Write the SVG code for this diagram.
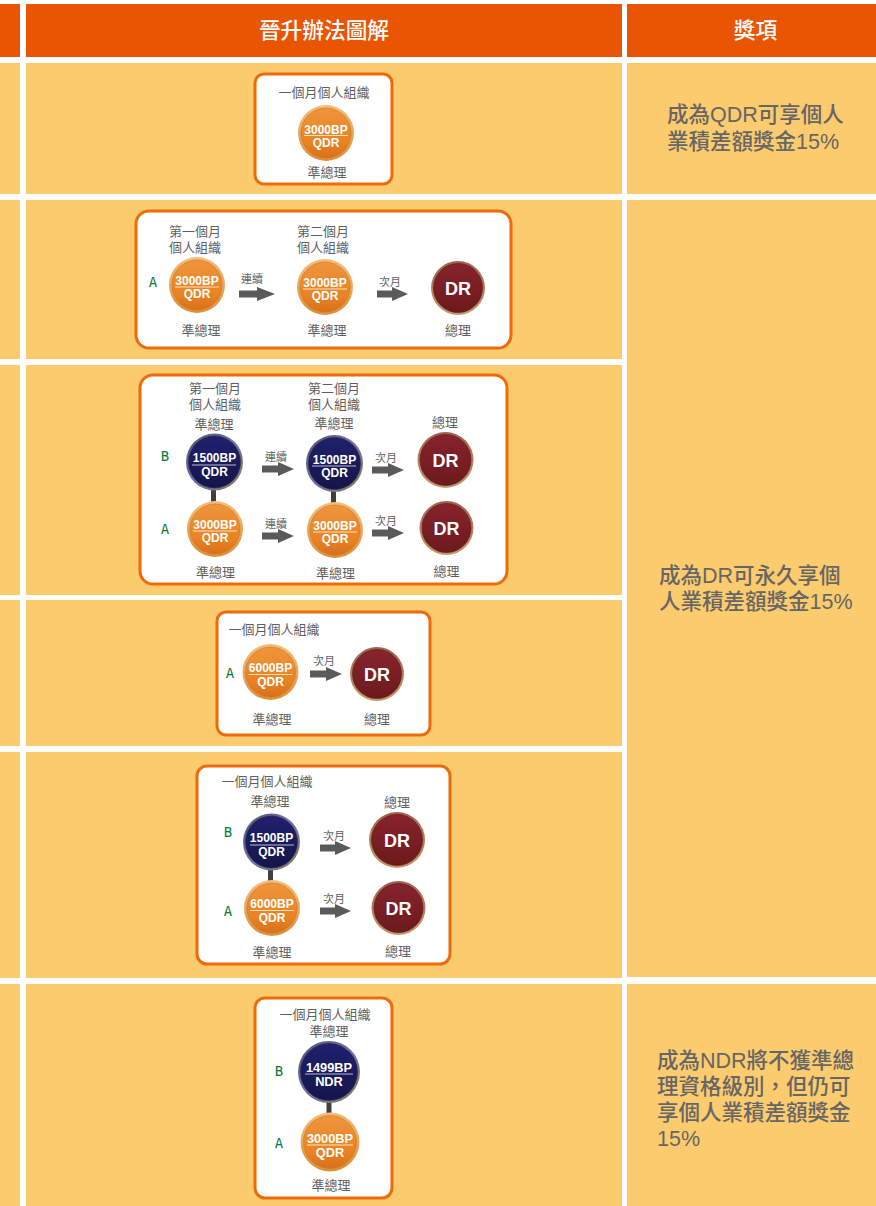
<svg xmlns="http://www.w3.org/2000/svg" width="876" height="1206" viewBox="0 0 876 1206">
<style>
text{font-family:"Liberation Sans","Noto Sans CJK TC",sans-serif;text-anchor:middle;dominant-baseline:central}
.cell{fill:#fccb6d}.head{fill:#ea5504}
.box{fill:#fff;stroke:#ee6a0a;stroke-width:3}
.h{font-size:21.700px;fill:#fff;font-weight:500}
.r{font-size:21.500px;fill:#666;text-anchor:start;dominant-baseline:auto;font-weight:500}
.l{font-size:13px;fill:#5f5f5f}
.s{font-size:11px;fill:#5f5f5f}
.g{font-size:14px;fill:#0b7a3e;font-family:"DejaVu Sans Mono",monospace}
.n{font-size:12px;font-weight:700;fill:#fff}
.nl{font-size:12.800px;font-weight:700;fill:#fff}
.d{font-size:18px;font-weight:700;fill:#fff}
.o1{fill:url(#oRing)}.o2{fill:url(#oFill);stroke:#c9772c;stroke-width:.6}
.b1{fill:url(#bRing)}.b2{fill:url(#bFill);stroke:#2a2a3a;stroke-width:.6}
.m1{fill:url(#dRing)}.m2{fill:url(#dFill);stroke:#5c1a1a;stroke-width:.6}
.u{stroke:#fff;stroke-width:1.2}.uo{stroke:#fde3c0;stroke-width:1.2}.ub{stroke:#b9b9d8;stroke-width:1.2}
.a{stroke:#5a5a5a;stroke-width:7;fill:none}
.big{marker-end:url(#hb)}.sm{marker-end:url(#hs)}
.link{stroke:#3f3f3f;stroke-width:5}
</style>
<defs>
<linearGradient id="oRing" x1="0" y1="0" x2="0" y2="1"><stop offset="0" stop-color="#f6bd7a"/><stop offset="1" stop-color="#dc8f3a"/></linearGradient>
<linearGradient id="oFill" x1="0" y1="0" x2="0" y2="1"><stop offset="0" stop-color="#ee953c"/><stop offset=".7" stop-color="#e98222"/><stop offset="1" stop-color="#d8701a"/></linearGradient>
<linearGradient id="bRing" x1="0" y1="0" x2="1" y2="1"><stop offset="0" stop-color="#54546a"/><stop offset=".5" stop-color="#6f6fb0"/><stop offset="1" stop-color="#8a7d50"/></linearGradient>
<linearGradient id="bFill" x1="0" y1="0" x2="0" y2="1"><stop offset="0" stop-color="#20206e"/><stop offset="1" stop-color="#15154a"/></linearGradient>
<linearGradient id="dRing" x1="0" y1="0" x2="0" y2="1"><stop offset="0" stop-color="#a0604a"/><stop offset="1" stop-color="#c49a6c"/></linearGradient>
<linearGradient id="dFill" x1="0" y1="0" x2="0" y2="1"><stop offset="0" stop-color="#87232e"/><stop offset="1" stop-color="#6c1a1c"/></linearGradient>
<marker id="hb" markerUnits="userSpaceOnUse" markerWidth="18" markerHeight="14" refX="0" refY="7" orient="auto"><path d="M0 0L18 7L0 14Z" fill="#5a5a5a"/></marker>
<marker id="hs" markerUnits="userSpaceOnUse" markerWidth="16" markerHeight="14" refX="0" refY="7" orient="auto"><path d="M0 0L16 7L0 14Z" fill="#5a5a5a"/></marker>
</defs>

<g id="table">
<rect class="head" x="0" y="4" width="20" height="53"/>
<rect class="head" x="26" y="4" width="596" height="53"/>
<rect class="head" x="627" y="4" width="249" height="53"/>
<text class="h" x="324" y="30.500">晉升辦法圖解</text>
<text class="h" x="755.500" y="30.500">獎項</text>
<rect class="cell" x="0" y="63" width="20" height="131"/>
<rect class="cell" x="0" y="200" width="20" height="159"/>
<rect class="cell" x="0" y="365" width="20" height="230"/>
<rect class="cell" x="0" y="600" width="20" height="146"/>
<rect class="cell" x="0" y="752" width="20" height="226"/>
<rect class="cell" x="0" y="984" width="20" height="222"/>
<rect class="cell" x="26" y="63" width="596" height="131"/>
<rect class="cell" x="26" y="200" width="596" height="159"/>
<rect class="cell" x="26" y="365" width="596" height="230"/>
<rect class="cell" x="26" y="600" width="596" height="146"/>
<rect class="cell" x="26" y="752" width="596" height="226"/>
<rect class="cell" x="26" y="984" width="596" height="222"/>
<rect class="cell" x="627" y="63" width="249" height="131"/>
<rect class="cell" x="627" y="200" width="249" height="777"/>
<rect class="cell" x="627" y="984" width="249" height="222"/>
<text class="r" x="667" y="122">成為QDR可享個人</text>
<text class="r" x="667" y="149">業積差額獎金15%</text>
<text class="r" x="659" y="583">成為DR可永久享個</text>
<text class="r" x="659" y="609">人業積差額獎金15%</text>
<text class="r" x="657" y="1068">成為NDR將不獲準總</text>
<text class="r" x="657" y="1094">理資格級別，但仍可</text>
<text class="r" x="657" y="1120">享個人業積差額獎金</text>
<text class="r" x="657" y="1146">15%</text>
</g>

<g id="boxes">
<rect class="box" x="255" y="74" width="137" height="110" rx="9"/>
<rect class="box" x="136" y="211" width="375" height="137" rx="13"/>
<rect class="box" x="140" y="375" width="367" height="209" rx="13"/>
<rect class="box" x="217" y="612" width="213" height="123" rx="9"/>
<rect class="box" x="197" y="766" width="253" height="198" rx="10"/>
<rect class="box" x="255" y="998" width="137" height="200" rx="10"/>
</g>

<g id="connectors">
<line class="a big" x1="239" y1="294" x2="257" y2="294"/>
<line class="a sm" x1="377" y1="294" x2="392" y2="294"/>
<line class="a sm" x1="262" y1="469" x2="278" y2="469"/>
<line class="a sm" x1="262" y1="536" x2="278" y2="536"/>
<line class="a sm" x1="372" y1="470" x2="388" y2="470"/>
<line class="a sm" x1="372" y1="533" x2="388" y2="533"/>
<line class="a sm" x1="310" y1="674" x2="326" y2="674"/>
<line class="a sm" x1="320" y1="848" x2="335" y2="848"/>
<line class="a sm" x1="320" y1="911" x2="335" y2="911"/>
<line class="link" x1="213.500" y1="488" x2="213.500" y2="502"/>
<line class="link" x1="333.500" y1="489" x2="333.500" y2="503"/>
<line class="link" x1="270.500" y1="868" x2="270.500" y2="881"/>
<line class="link" x1="329" y1="1100" x2="329" y2="1114"/>
</g>

<g id="labels">
<text class="l" x="324" y="92.500">一個月個人組織</text><text class="l" x="327" y="172">準總理</text>
<text class="l" x="195" y="231.500">第一個月</text><text class="l" x="195" y="247.500">個人組織</text>
<text class="l" x="323" y="231.500">第二個月</text><text class="l" x="323" y="247.500">個人組織</text>
<text class="g" x="153" y="282">A</text>
<text class="s" x="252" y="278.500">連續</text><text class="s" x="390" y="281.500">次月</text>
<text class="l" x="201" y="330.500">準總理</text><text class="l" x="327" y="330.500">準總理</text><text class="l" x="458" y="330.500">總理</text>
<text class="l" x="215" y="388.500">第一個月</text><text class="l" x="215" y="404.500">個人組織</text><text class="l" x="214" y="424.500">準總理</text>
<text class="l" x="334" y="388.500">第二個月</text><text class="l" x="334" y="404">個人組織</text><text class="l" x="334" y="423.500">準總理</text>
<text class="l" x="445" y="422.500">總理</text>
<text class="g" x="165" y="455.500">B</text><text class="g" x="165" y="528.500">A</text>
<text class="s" x="276" y="456.500">連續</text><text class="s" x="276" y="523.500">連續</text>
<text class="s" x="386" y="457.500">次月</text><text class="s" x="386" y="520.500">次月</text>
<text class="l" x="215.500" y="572">準總理</text><text class="l" x="335.500" y="573.500">準總理</text><text class="l" x="446.500" y="571">總理</text>
<text class="l" x="274" y="629.500">一個月個人組織</text>
<text class="g" x="230" y="672.500">A</text><text class="s" x="324" y="660.500">次月</text>
<text class="l" x="272" y="719">準總理</text><text class="l" x="377" y="719">總理</text>
<text class="l" x="267" y="781.500">一個月個人組織</text><text class="l" x="270" y="801.500">準總理</text><text class="l" x="397" y="802">總理</text>
<text class="g" x="228" y="832">B</text><text class="g" x="228" y="910.500">A</text>
<text class="s" x="334" y="835.500">次月</text><text class="s" x="334" y="898.500">次月</text>
<text class="l" x="272" y="952">準總理</text><text class="l" x="398" y="951">總理</text>
<text class="l" x="325" y="1014">一個月個人組織</text><text class="l" x="329" y="1031">準總理</text>
<text class="g" x="279" y="1071">B</text><text class="g" x="279" y="1143">A</text>
<text class="l" x="331" y="1185">準總理</text>
</g>

<g id="n1"><circle class="o1" cx="326" cy="133" r="28"/><circle class="o2" cx="326" cy="133" r="25"/><text class="n" x="326" y="130">3000BP</text><line class="uo" x1="304" x2="348" y1="135.500" y2="135.500"/><text class="n" x="326" y="143">QDR</text></g>
<g id="n2"><circle class="o1" cx="197" cy="285" r="28"/><circle class="o2" cx="197" cy="285" r="25"/><text class="n" x="197" y="281">3000BP</text><line class="uo" x1="175" x2="219" y1="287" y2="287"/><text class="n" x="197" y="294">QDR</text></g>
<g id="n3"><circle class="o1" cx="325" cy="287" r="28"/><circle class="o2" cx="325" cy="287" r="25"/><text class="n" x="325" y="283">3000BP</text><line class="uo" x1="303" x2="347" y1="289" y2="289"/><text class="n" x="325" y="296">QDR</text></g>
<g id="n4"><circle class="m1" cx="458" cy="288" r="27"/><circle class="m2" cx="458" cy="288" r="24.500"/><text class="d" x="458" y="288.500">DR</text></g>
<g id="n5"><circle class="b1" cx="214.500" cy="462" r="28.500"/><circle class="b2" cx="214.500" cy="462" r="26"/><text class="n" x="214.500" y="458">1500BP</text><line class="ub" x1="192" x2="236" y1="465" y2="465"/><text class="n" x="214.500" y="471.500">QDR</text></g>
<g id="n6"><circle class="o1" cx="215" cy="529" r="28"/><circle class="o2" cx="215" cy="529" r="25"/><text class="n" x="215" y="525">3000BP</text><line class="uo" x1="193" x2="237" y1="531" y2="531"/><text class="n" x="215" y="538">QDR</text></g>
<g id="n7"><circle class="b1" cx="334.500" cy="463.500" r="28.500"/><circle class="b2" cx="334.500" cy="463.500" r="26"/><text class="n" x="334.500" y="459.500">1500BP</text><line class="ub" x1="312" x2="356" y1="466" y2="466"/><text class="n" x="334.500" y="472.500">QDR</text></g>
<g id="n8"><circle class="o1" cx="335" cy="530" r="28"/><circle class="o2" cx="335" cy="530" r="25"/><text class="n" x="335" y="526">3000BP</text><line class="uo" x1="313" x2="357" y1="532" y2="532"/><text class="n" x="335" y="539">QDR</text></g>
<g id="n9"><circle class="m1" cx="445.500" cy="460" r="28"/><circle class="m2" cx="445.500" cy="460" r="25.500"/><text class="d" x="445.500" y="461">DR</text></g>
<g id="n10"><circle class="m1" cx="446.500" cy="528" r="27"/><circle class="m2" cx="446.500" cy="528" r="24.500"/><text class="d" x="446.500" y="528.500">DR</text></g>
<g id="n11"><circle class="o1" cx="270.500" cy="672" r="28"/><circle class="o2" cx="270.500" cy="672" r="25"/><text class="n" x="270.500" y="668">6000BP</text><line class="uo" x1="248.500" x2="292.500" y1="674.500" y2="674.500"/><text class="n" x="270.500" y="681.500">QDR</text></g>
<g id="n12"><circle class="m1" cx="377" cy="674" r="27"/><circle class="m2" cx="377" cy="674" r="24.500"/><text class="d" x="377" y="675">DR</text></g>
<g id="n13"><circle class="b1" cx="271.500" cy="842" r="28.500"/><circle class="b2" cx="271.500" cy="842" r="26"/><text class="n" x="271.500" y="838">1500BP</text><line class="ub" x1="250" x2="294" y1="845" y2="845"/><text class="n" x="271.500" y="851.500">QDR</text></g>
<g id="n14"><circle class="o1" cx="272" cy="908" r="28"/><circle class="o2" cx="272" cy="908" r="25"/><text class="n" x="272" y="904">6000BP</text><line class="uo" x1="250" x2="294" y1="910.500" y2="910.500"/><text class="n" x="272" y="917.500">QDR</text></g>
<g id="n15"><circle class="m1" cx="397" cy="840" r="28"/><circle class="m2" cx="397" cy="840" r="25.500"/><text class="d" x="397" y="841">DR</text></g>
<g id="n16"><circle class="m1" cx="398.500" cy="908" r="27"/><circle class="m2" cx="398.500" cy="908" r="24.500"/><text class="d" x="398.500" y="908.500">DR</text></g>
<g id="n17"><circle class="b1" cx="329" cy="1072" r="31"/><circle class="b2" cx="329" cy="1072" r="28.500"/><text class="nl" x="329" y="1067">1499BP</text><line class="ub" x1="305" x2="353" y1="1074" y2="1074"/><text class="nl" x="329" y="1081.500">NDR</text></g>
<g id="n18"><circle class="o1" cx="330" cy="1142" r="29.500"/><circle class="o2" cx="330" cy="1142" r="26.500"/><text class="nl" x="330" y="1138">3000BP</text><line class="uo" x1="307" x2="353" y1="1145" y2="1145"/><text class="nl" x="330" y="1152.500">QDR</text></g>
</svg>
